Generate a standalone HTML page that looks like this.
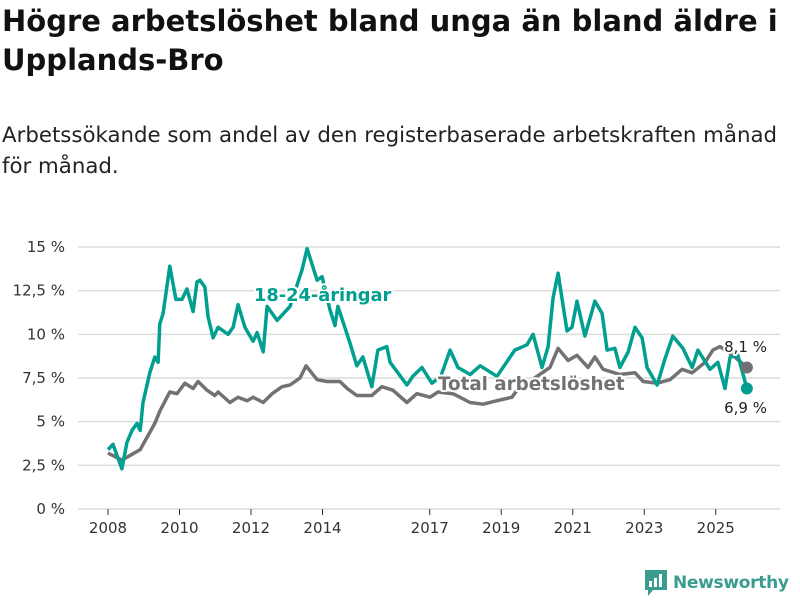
<!DOCTYPE html>
<html><head><meta charset="utf-8">
<style>
body{margin:0;background:#fff;font-family:"Liberation Sans","DejaVu Sans",sans-serif;}
#wrap{position:relative;width:800px;height:600px;overflow:hidden;}
h1{position:absolute;left:2px;top:2px;margin:0;font-size:29px;line-height:39px;font-weight:bold;color:#111;width:798px;font-family:"DejaVu Sans","Liberation Sans",sans-serif;letter-spacing:0}
p.sub{position:absolute;left:2px;top:120px;margin:0;font-size:21.3px;line-height:31px;color:#222;font-family:"DejaVu Sans","Liberation Sans",sans-serif;letter-spacing:0;white-space:nowrap}
svg{position:absolute;left:0;top:0}
</style></head><body>
<div id="wrap">
<h1>Högre arbetslöshet bland unga än bland äldre i Upplands-Bro</h1>
<p class="sub">Arbetssökande som andel av den registerbaserade arbetskraften månad<br>för månad.</p>
<svg id="chart" width="800" height="600"></svg>
<div style="position:absolute;left:645px;top:570px;height:26px;display:flex;align-items:center;">
<svg width="22" height="26" viewBox="0 0 22 26" style="position:static"><path d="M0 0h22v20H8l-5 6v-6H0z" fill="#3a9c8f"/><rect x="4" y="11" width="3" height="6" fill="#fff"/><rect x="9" y="8" width="3" height="9" fill="#fff"/><rect x="14" y="4" width="3" height="13" fill="#fff"/></svg>
<span style="font-family:'DejaVu Sans','Liberation Sans',sans-serif;font-size:17px;color:#3a9c8f;margin-left:6px;font-weight:bold;letter-spacing:-0.3px">Newsworthy</span>
</div>
</div>
<script>
const yTicks=[0,2.5,5,7.5,10,12.5,15];
const yTickLabels=["0 %","2,5 %","5 %","7,5 %","10 %","12,5 %","15 %"];
const xTicks=[2008,2010,2012,2014,2017,2019,2021,2023,2025];
const youthDates=[0,.14,.39,.53,.67,.81,.90,.98,1.17,1.31,1.40,1.45,1.54,1.73,1.90,2.07,2.21,2.38,2.49,2.57,2.71,2.80,2.94,3.08,3.36,3.50,3.64,3.83,4.06,4.17,4.34,4.45,4.73,5.09,5.43,5.57,5.85,5.99,6.21,6.35,6.43,6.77,6.96,7.13,7.38,7.55,7.80,7.89,8.36,8.53,8.78,9.06,9.31,9.57,9.79,10.13,10.41,10.88,11.38,11.72,11.89,12.14,12.31,12.45,12.59,12.84,12.98,13.12,13.34,13.62,13.82,13.96,14.18,14.32,14.55,14.74,14.94,15.08,15.36,15.58,15.80,16.08,16.34,16.50,16.84,17.06,17.26,17.40,17.62,17.87];
const youthValues=[3.4,3.7,2.3,3.8,4.5,4.9,4.5,6.1,7.8,8.7,8.4,10.6,11.2,13.9,12.0,12.0,12.6,11.3,13.0,13.1,12.7,11.0,9.8,10.4,10.0,10.4,11.7,10.4,9.6,10.1,9.0,11.6,10.8,11.6,13.7,14.9,13.1,13.3,11.4,10.5,11.6,9.5,8.2,8.7,7.0,9.1,9.3,8.4,7.1,7.6,8.1,7.2,7.6,9.1,8.1,7.7,8.2,7.6,9.1,9.4,10.0,8.1,9.3,12.1,13.5,10.2,10.4,11.9,9.9,11.9,11.2,9.1,9.2,8.1,9.0,10.4,9.8,8.1,7.1,8.6,9.9,9.2,8.1,9.1,8.0,8.4,6.9,8.7,8.8,6.9];
const totalDates=[0,.39,.90,1.31,1.45,1.73,1.93,2.15,2.38,2.52,2.77,2.99,3.08,3.41,3.64,3.89,4.06,4.34,4.59,4.87,5.09,5.37,5.54,5.85,6.13,6.49,6.69,6.96,7.38,7.66,7.97,8.36,8.64,9.01,9.23,9.65,10.13,10.49,10.88,11.30,11.44,12.36,12.59,12.87,13.12,13.43,13.62,13.85,14.32,14.74,14.97,15.36,15.72,16.06,16.34,16.70,16.92,17.12,17.48,17.87];
const totalValues=[3.2,2.8,3.4,4.9,5.6,6.7,6.6,7.2,6.9,7.3,6.8,6.5,6.7,6.1,6.4,6.2,6.4,6.1,6.6,7.0,7.1,7.5,8.2,7.4,7.3,7.3,6.9,6.5,6.5,7.0,6.8,6.1,6.6,6.4,6.7,6.6,6.1,6.0,6.2,6.4,6.8,8.1,9.2,8.5,8.8,8.1,8.7,8.0,7.7,7.8,7.3,7.2,7.4,8.0,7.8,8.4,9.1,9.3,8.8,8.1];

const NS="http://www.w3.org/2000/svg";
const svg=document.getElementById('chart');
const x=t=>108+(t-2008)*35.75;
const y=v=>509-v*262/15;
function mk(tag,attrs,parent){const e=document.createElementNS(NS,tag);for(const k in attrs)e.setAttribute(k,attrs[k]);(parent||svg).appendChild(e);return e;}
yTicks.forEach((v,i)=>{
  const g=mk('line',{x1:78,x2:780,y1:y(v),y2:y(v),stroke:'#dcdcdc','stroke-width':1.5});
  
  
  const t=mk('text',{x:65,y:y(v)+5,'text-anchor':'end','font-size':15,fill:'#333','font-family':'DejaVu Sans, Liberation Sans, sans-serif'});
  t.textContent=yTickLabels[i];
  
  
});
xTicks.forEach(yr=>{
  const l=mk('line',{x1:x(yr),x2:x(yr),y1:509,y2:515,stroke:'#333','stroke-width':1});
  
  
  const t=mk('text',{x:x(yr),y:533,'text-anchor':'middle','font-size':15,fill:'#333','font-family':'DejaVu Sans, Liberation Sans, sans-serif'});
  t.textContent=yr;
  
  
});
function path(d,vals){return d.map((t,i)=>(i?'L':'M')+x(2008+t).toFixed(1)+' '+y(vals[i]).toFixed(1)).join(' ');}
const pt=mk('path',{d:path(totalDates,totalValues),fill:'none',stroke:'#727174','stroke-width':3.5,'stroke-linejoin':'round'});


const py=mk('path',{d:path(youthDates,youthValues),fill:'none',stroke:'#009f8f','stroke-width':3.5,'stroke-linejoin':'round'});


const lt=totalDates.length-1, ly=youthDates.length-1;
const d1=mk('circle',{cx:x(2008+totalDates[lt]),cy:y(totalValues[lt]),r:6,fill:'#727174'});


const d2=mk('circle',{cx:x(2008+youthDates[ly]),cy:y(youthValues[ly]),r:6,fill:'#009f8f'});


function label(txt,xx,yy,col,size,weight,name,anchor){
  const t=mk('text',{x:xx,y:yy,'font-size':size,'font-weight':weight,fill:col,stroke:'#fff','stroke-width':4,'paint-order':'stroke','stroke-linejoin':'round','font-family':'DejaVu Sans, Liberation Sans, sans-serif','text-anchor':anchor||'start'});
  t.textContent=txt;
  
  
}
label('18-24-åringar',254,301,'#009f8f',17.8,'bold','youth-series-label');
label('Total arbetslöshet',438,390,'#727174',18.3,'bold','total-series-label');
label(String(totalValues[lt]).replace('.',',')+' %',767,352,'#222',15,'normal','total-end-value','end');
label(String(youthValues[ly]).replace('.',',')+' %',767,413,'#222',15,'normal','youth-end-value','end');
</script>
</body></html>
